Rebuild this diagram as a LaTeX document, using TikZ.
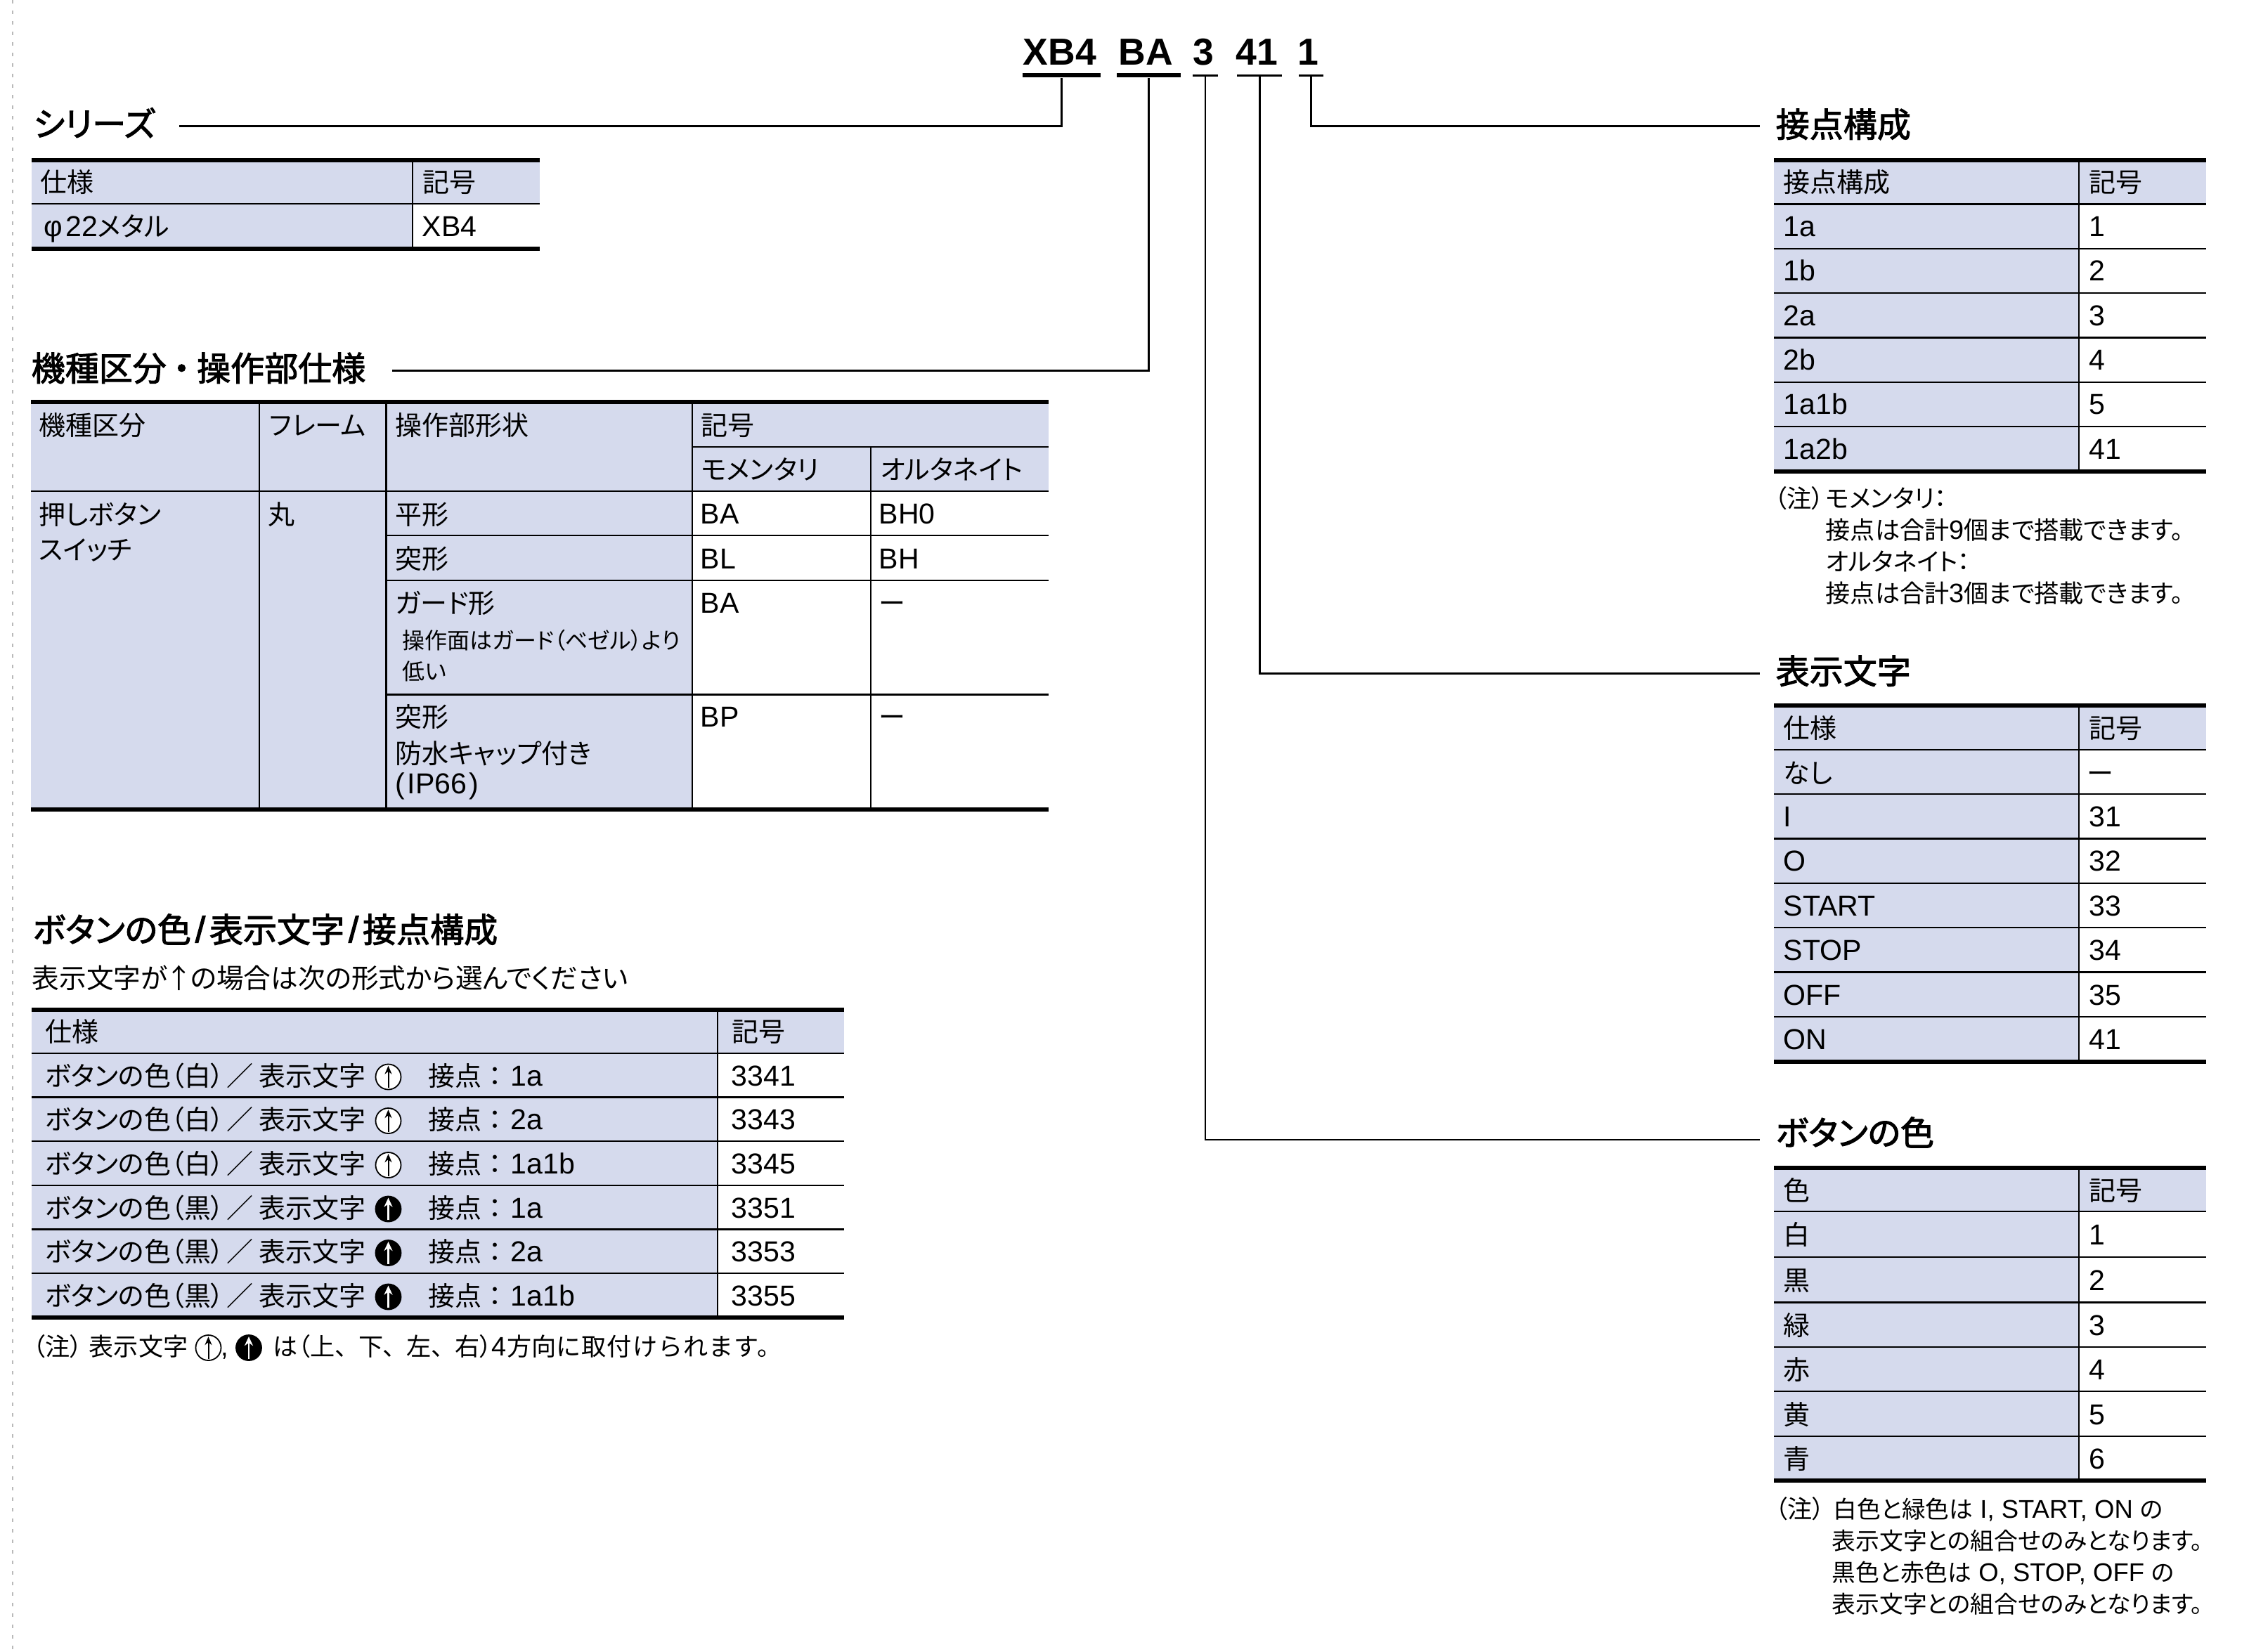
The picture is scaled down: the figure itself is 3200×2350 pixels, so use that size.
\documentclass[tikz,border=0pt]{standalone}
\usepackage{fontspec}
\usepackage{xcolor}
\setmainfont[RawFeature=+palt]{Noto Sans CJK JP}
\newfontfamily\headfont[RawFeature=+palt,FakeBold=2.2]{Noto Sans CJK JP}
\newfontfamily\fullfont[LetterSpace=3]{Noto Sans CJK JP}
\newfontfamily\latinfont[Scale=1.08]{Liberation Sans}
\newfontfamily\latinhead[Scale=1.08,FakeBold=2.2]{Liberation Sans}
\newcommand{\la}[1]{{\latinfont #1}}
\usetikzlibrary{arrows.meta}
\definecolor{celllilac}{HTML}{D5DAED}
\tikzset{
    rule/.style={line width=0.06cm},
    cell/.style={line width=0.028cm},
    lead/.style={line width=0.03cm},
    leadthin/.style={line width=0.022cm},
    partcode/.style={anchor=base west, inner sep=0pt, font=\fontsize{14.1}{16}\selectfont\latinfont\bfseries},
    partbar/.style={fill, inner sep=0pt, minimum height=0.06cm},
    partbarthin/.style={fill, inner sep=0pt, minimum height=0.022cm},
    heading/.style={anchor=base west, inner sep=0pt, font=\fontsize{13.66}{16}\selectfont\headfont},
    txt/.style={anchor=base west, inner sep=0pt, font=\fontsize{10.81}{13}\selectfont},
    smalltxt/.style={anchor=base west, inner sep=0pt, font=\fontsize{10.0}{12}\selectfont},
    notetxt/.style={anchor=base west, inner sep=0pt, font=\fontsize{9.6}{12}\selectfont},
    tinytxt/.style={anchor=base west, inner sep=0pt, font=\fontsize{9.1}{12}\selectfont},
    whitemark/.style={circle, draw, fill=white, line width=0.018cm, inner sep=0pt, minimum size=0.36cm},
    blackmark/.style={circle, draw, fill=black, line width=0.018cm, inner sep=0pt, minimum size=0.36cm},
}
\newcommand{\whitearrow}[3]{
    \node (#1) [whitemark] at (#2,#3) {};
    \draw[line width=0.02cm, -{Stealth[length=0.12cm,width=0.1cm]}, shorten <=0.03cm, shorten >=0.03cm] (#1.south) -- (#1.north);
}
\newcommand{\blackarrow}[3]{
    \node (#1) [blackmark] at (#2,#3) {};
    \draw[white, line width=0.025cm, -{Stealth[length=0.13cm,width=0.12cm]}, shorten <=0.03cm, shorten >=0.03cm] (#1.south) -- (#1.north);
}
\newcommand{\whiterow}{ボタンの色（白）\hspace{0.1em}／\hspace{0.2em}表示文字}
\newcommand{\blackrow}{ボタンの色（黒）\hspace{0.1em}／\hspace{0.2em}表示文字}
\newcommand{\contact}{接点\hspace{0.25em}：\hspace{0.33em}}
\begin{document}
\begin{tikzpicture}[x=0.01cm,y=-0.01cm]
    \useasboundingbox (0,0) rectangle (3200,2350);
    \draw[gray!55, line width=0.02cm, dash pattern=on 0.05cm off 0.1cm] (18,0) -- (18,2350);

    % Cell shading
    \fill[celllilac] (45,228) rectangle (768,290);
    \fill[celllilac] (45,290) rectangle (587,354);
    \fill[celllilac] (44,572) rectangle (1492,699);
    \fill[celllilac] (44,699) rectangle (985,1152);
    \fill[celllilac] (45,1437) rectangle (1201,1499);
    \fill[celllilac] (45,1499) rectangle (1021,1875);
    \fill[celllilac] (2524,228) rectangle (3139,290);
    \fill[celllilac] (2524,290) rectangle (2958,671);
    \fill[celllilac] (2524,1004) rectangle (3139,1067);
    \fill[celllilac] (2524,1067) rectangle (2958,1510);
    \fill[celllilac] (2524,1661) rectangle (3139,1724);
    \fill[celllilac] (2524,1724) rectangle (2958,2107);

    % Series table
    \draw[rule] (45,228) -- (768,228);
    \draw[rule] (45,354) -- (768,354);
    \draw[cell] (45,290) -- (768,290);
    \draw[cell] (587,228) -- (587,354);
    \node (seriestitle) [heading] at (47,194) {シリーズ};
    \node (seriesspec) [txt] at (57,273) {仕様};
    \node (seriessym) [txt] at (601,273) {記号};
    \node (seriesname) [txt] at (62,336.5) {\la{φ\hspace{0.1em}22}メタル};
    \node (seriescode) [txt] at (600,336.5) {\la{XB4}};

    % Type table
    \draw[rule] (44,572) -- (1492,572);
    \draw[rule] (44,1152) -- (1492,1152);
    \draw[cell] (985,636) -- (1492,636);
    \draw[cell] (44,699) -- (1492,699);
    \draw[cell] (549.5,762) -- (1492,762);
    \draw[cell] (549.5,826) -- (1492,826);
    \draw[cell] (549.5,988.5) -- (1492,988.5);
    \draw[cell] (369,572) -- (369,1152);
    \draw[cell] (549.5,572) -- (549.5,1152);
    \draw[cell] (985,572) -- (985,1152);
    \draw[cell] (1239,636) -- (1239,1152);
    \node (typetitle) [heading] at (44,542) {機種区分\hspace{0.2em}・\hspace{0.2em}操作部仕様};
    \node (typekind) [txt] at (55,619) {機種区分};
    \node (typeframe) [txt] at (383,619) {フレーム};
    \node (typeshape) [txt] at (562,619) {操作部形状};
    \node (typesym) [txt] at (997,619) {記号};
    \node (typemom) [txt] at (997,682.5) {モメンタリ};
    \node (typealt) [txt] at (1252,682.5) {オルタネイト};
    \node (typepush) [txt] at (55,746) {押しボタン};
    \node (typeswitch) [txt] at (55,796) {スイッチ};
    \node (typeround) [txt] at (381,746) {丸};
    \node (shapeflat) [txt] at (562,746) {平形};
    \node (momflat) [txt] at (996,745.5) {\la{BA}};
    \node (altflat) [txt] at (1250,745.5) {\la{BH0}};
    \node (shapeprot) [txt] at (562,809) {突形};
    \node (momprot) [txt] at (996,809) {\la{BL}};
    \node (altprot) [txt] at (1250,809) {\la{BH}};
    \node (shapeguard) [txt] at (562,872) {ガード形};
    \node (guardnotea) [tinytxt] at (572,923) {操作面はガード（ベゼル）より};
    \node (guardnoteb) [tinytxt] at (572,967) {低い};
    \node (momguard) [txt] at (996,872) {\la{BA}};
    \node (altguard) [txt] at (1250,872) {ー};
    \node (shapecap) [txt] at (562,1034) {突形};
    \node (capnotea) [txt] at (562,1086) {防水キャップ付き};
    \node (capnoteb) [txt] at (562,1129) {\la{(\hspace{0.08em}IP66\hspace{0.08em})}};
    \node (momcap) [txt] at (996,1034) {\la{BP}};
    \node (altcap) [txt] at (1250,1034) {ー};

    % Button colour, marking and contact table
    \draw[rule] (45,1437) -- (1201,1437);
    \draw[rule] (45,1875) -- (1201,1875);
    \draw[cell] (45,1499) -- (1201,1499);
    \draw[cell] (45,1561.5) -- (1201,1561.5);
    \draw[cell] (45,1624) -- (1201,1624);
    \draw[cell] (45,1687) -- (1201,1687);
    \draw[cell] (45,1749.5) -- (1201,1749.5);
    \draw[cell] (45,1812) -- (1201,1812);
    \draw[cell] (1021,1437) -- (1021,1875);
    \node (combotitle) [heading] at (46,1341) {ボタンの色\hspace{0.12em}{\latinhead /}\hspace{0.12em}表示文字\hspace{0.12em}{\latinhead /}\hspace{0.12em}接点構成};
    \node (combosub) [txt, font=\fontsize{11}{13}\selectfont] at (45,1406) {表示文字が\hspace{-0.08em}↑\hspace{-0.08em}の場合は次の形式から選んでください};
    \node (combospec) [txt] at (64,1482.5) {仕様};
    \node (combosym) [txt] at (1041,1482.5) {記号};
    \node (rowa) [txt] at (64,1545) {\whiterow};
    \node (rowb) [txt] at (64,1607.5) {\whiterow};
    \node (rowc) [txt] at (64,1670.5) {\whiterow};
    \node (rowd) [txt] at (64,1733) {\blackrow};
    \node (rowe) [txt] at (64,1795.5) {\blackrow};
    \node (rowf) [txt] at (64,1858) {\blackrow};
    \whitearrow{marka}{552.5}{1532.5}
    \whitearrow{markb}{552.5}{1595}
    \whitearrow{markc}{552.5}{1658}
    \blackarrow{markd}{552.5}{1720.5}
    \blackarrow{marke}{552.5}{1783}
    \blackarrow{markf}{552.5}{1845.5}
    \node (conta) [txt] at (609,1545) {\contact\la{1a}};
    \node (contb) [txt] at (609,1607.5) {\contact\la{2a}};
    \node (contc) [txt] at (609,1670.5) {\contact\la{1a1b}};
    \node (contd) [txt] at (609,1733) {\contact\la{1a}};
    \node (conte) [txt] at (609,1795.5) {\contact\la{2a}};
    \node (contf) [txt] at (609,1858) {\contact\la{1a1b}};
    \node (syma) [txt] at (1040,1545) {\la{3341}};
    \node (symb) [txt] at (1040,1607.5) {\la{3343}};
    \node (symc) [txt] at (1040,1670.5) {\la{3345}};
    \node (symd) [txt] at (1040,1733) {\la{3351}};
    \node (syme) [txt] at (1040,1795.5) {\la{3353}};
    \node (symf) [txt] at (1040,1858) {\la{3355}};
    \node (combonote) [smalltxt] at (46,1929) {（注）};
    \node (combonoteb) [smalltxt] at (126,1929) {表示文字};
    \whitearrow{notemarka}{296.5}{1918}
    \node (combocomma) [smalltxt] at (314,1929) {\la{,}};
    \blackarrow{notemarkb}{354}{1918}
    \node (combonotec) [smalltxt] at (388,1929) {は（上、\hspace{0.45em}下、\hspace{0.45em}左、\hspace{0.45em}右）\la{4}方向{\fullfont に取付けられます。}};

    % Contact table
    \draw[rule] (2524,228) -- (3139,228);
    \draw[rule] (2524,671) -- (3139,671);
    \draw[cell] (2524,290.5) -- (3139,290.5);
    \draw[cell] (2524,354) -- (3139,354);
    \draw[cell] (2524,417) -- (3139,417);
    \draw[cell] (2524,480.5) -- (3139,480.5);
    \draw[cell] (2524,544) -- (3139,544);
    \draw[cell] (2524,607) -- (3139,607);
    \draw[cell] (2958,228) -- (2958,671);
    \node (conttitle) [heading] at (2526,195) {接点構成};
    \node (contspec) [txt] at (2537,273) {接点構成};
    \node (contsym) [txt] at (2972,273) {記号};
    \node (conttypea) [txt] at (2537,336.5) {\la{1a}};
    \node (conttypeb) [txt] at (2537,399.5) {\la{1b}};
    \node (conttypec) [txt] at (2537,463) {\la{2a}};
    \node (conttyped) [txt] at (2537,526.5) {\la{2b}};
    \node (conttypee) [txt] at (2537,589.5) {\la{1a1b}};
    \node (conttypef) [txt] at (2537,653.5) {\la{1a2b}};
    \node (contcodea) [txt] at (2972,336.5) {\la{1}};
    \node (contcodeb) [txt] at (2972,399.5) {\la{2}};
    \node (contcodec) [txt] at (2972,463) {\la{3}};
    \node (contcoded) [txt] at (2972,526.5) {\la{4}};
    \node (contcodee) [txt] at (2972,589.5) {\la{5}};
    \node (contcodef) [txt] at (2972,653.5) {\la{41}};
    \node (contnote) [smalltxt] at (2524,722) {（注）};
    \node (contnotea) [smalltxt] at (2597,722) {モメンタリ：};
    \node (contnoteb) [smalltxt] at (2597,767) {接点は合計\la{9}個まで搭載できます。};
    \node (contnotec) [smalltxt] at (2597,812) {オルタネイト：};
    \node (contnoted) [smalltxt] at (2597,857) {接点は合計\la{3}個まで搭載できます。};

    % Marking table
    \draw[rule] (2524,1004) -- (3139,1004);
    \draw[rule] (2524,1510.5) -- (3139,1510.5);
    \draw[cell] (2524,1067) -- (3139,1067);
    \draw[cell] (2524,1130) -- (3139,1130);
    \draw[cell] (2524,1193.5) -- (3139,1193.5);
    \draw[cell] (2524,1257) -- (3139,1257);
    \draw[cell] (2524,1320) -- (3139,1320);
    \draw[cell] (2524,1383.5) -- (3139,1383.5);
    \draw[cell] (2524,1447) -- (3139,1447);
    \draw[cell] (2958,1004) -- (2958,1510.5);
    \node (marktitle) [heading] at (2526,973) {表示文字};
    \node (markspec) [txt] at (2537,1050.5) {仕様};
    \node (marksym) [txt] at (2972,1050.5) {記号};
    \node (marknone) [txt] at (2537,1114) {なし};
    \node (marki) [txt] at (2537,1176) {\la{I}};
    \node (marko) [txt] at (2537,1239.5) {\la{O}};
    \node (markstart) [txt] at (2537,1303) {\la{START}};
    \node (markstop) [txt] at (2537,1366) {\la{STOP}};
    \node (markoff) [txt] at (2537,1430) {\la{OFF}};
    \node (markon) [txt] at (2537,1493) {\la{ON}};
    \node (markcodea) [txt] at (2969,1114) {ー};
    \node (markcodeb) [txt] at (2972,1176) {\la{31}};
    \node (markcodec) [txt] at (2972,1239.5) {\la{32}};
    \node (markcoded) [txt] at (2972,1303) {\la{33}};
    \node (markcodee) [txt] at (2972,1366) {\la{34}};
    \node (markcodef) [txt] at (2972,1430) {\la{35}};
    \node (markcodeg) [txt] at (2972,1493) {\la{41}};

    % Button colour table
    \draw[rule] (2524,1661.5) -- (3139,1661.5);
    \draw[rule] (2524,2107) -- (3139,2107);
    \draw[cell] (2524,1724) -- (3139,1724);
    \draw[cell] (2524,1789) -- (3139,1789);
    \draw[cell] (2524,1853.5) -- (3139,1853.5);
    \draw[cell] (2524,1917) -- (3139,1917);
    \draw[cell] (2524,1980) -- (3139,1980);
    \draw[cell] (2524,2044) -- (3139,2044);
    \draw[cell] (2958,1661.5) -- (2958,2107);
    \node (colortitle) [heading] at (2526,1630) {ボタンの色};
    \node (colorspec) [txt] at (2537,1708) {色};
    \node (colorsym) [txt] at (2972,1708) {記号};
    \node (colorwhite) [txt] at (2537,1771) {白};
    \node (colorblack) [txt] at (2537,1836) {黒};
    \node (colorgreen) [txt] at (2537,1900.5) {緑};
    \node (colorred) [txt] at (2537,1963.5) {赤};
    \node (coloryellow) [txt] at (2537,2027.5) {黄};
    \node (colorblue) [txt] at (2537,2090.5) {青};
    \node (colorcodea) [txt] at (2972,1771) {\la{1}};
    \node (colorcodeb) [txt] at (2972,1836) {\la{2}};
    \node (colorcodec) [txt] at (2972,1900.5) {\la{3}};
    \node (colorcoded) [txt] at (2972,1963.5) {\la{4}};
    \node (colorcodee) [txt] at (2972,2027.5) {\la{5}};
    \node (colorcodef) [txt] at (2972,2090.5) {\la{6}};
    \node (colornote) [smalltxt] at (2525,2160) {（注）};
    \node (colornotea) [notetxt] at (2608,2160) {白色と緑色は\la{ I, START, ON }の};
    \node (colornoteb) [notetxt] at (2606,2205) {表示文字との組合せのみとなります。};
    \node (colornotec) [notetxt] at (2606,2250) {黒色と赤色は\la{ O, STOP, OFF }の};
    \node (colornoted) [notetxt] at (2606,2295) {表示文字との組合せのみとなります。};

    % Part number
    \node (codexb) [partcode] at (1455,92) {XB4};
    \node (codeba) [partcode] at (1591,92) {BA};
    \node (codethree) [partcode] at (1697,92) {3};
    \node (codefour) [partcode] at (1758,92) {41};
    \node (codeone) [partcode] at (1846,92) {1};
    \node (barxb) [partbar, minimum width=1.11cm] at (1510.5,107) {};
    \node (barba) [partbar, minimum width=0.9cm] at (1634.5,107) {};
    \node (barthree) [partbarthin, minimum width=0.36cm] at (1715,107.5) {};
    \node (barfour) [partbarthin, minimum width=0.64cm] at (1792,107.5) {};
    \node (barone) [partbarthin, minimum width=0.35cm] at (1865.5,107.5) {};

    % Leaders
    \coordinate (seriesend) at (255,179);
    \coordinate (typeend) at (558,527);
    \coordinate (contend) at (2504,179);
    \coordinate (markend) at (2504,958);
    \coordinate (colorend) at (2504,1622);
    \draw[lead] (seriesend) -| (barxb.south);
    \draw[lead] (typeend) -| (barba.south);
    \draw[lead] (barone.south) |- (contend);
    \draw[lead] (barfour.south) |- (markend);
    \draw[leadthin] (barthree.south) |- (colorend);
\end{tikzpicture}
\end{document}
